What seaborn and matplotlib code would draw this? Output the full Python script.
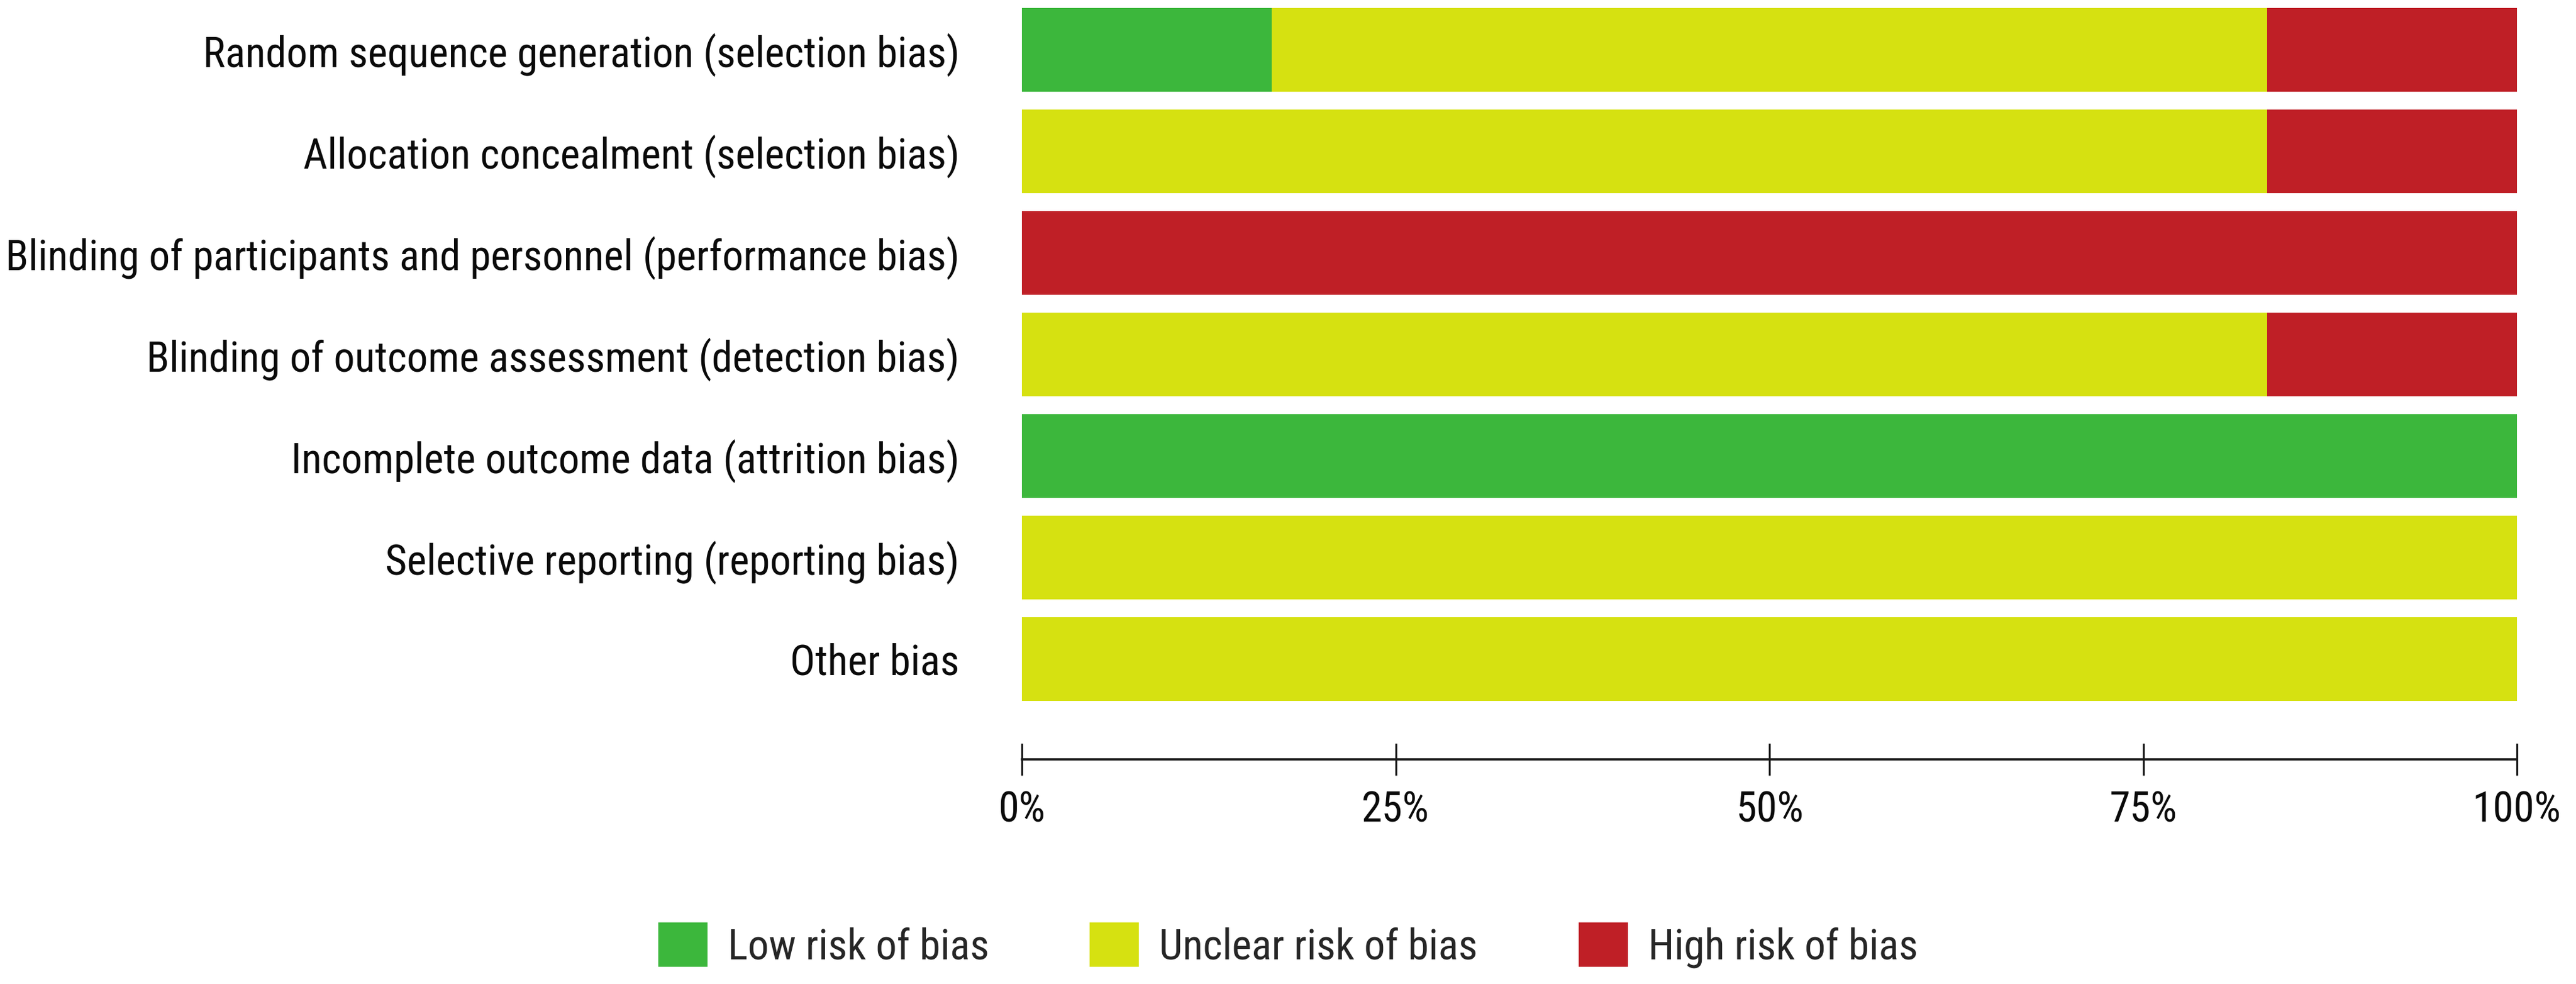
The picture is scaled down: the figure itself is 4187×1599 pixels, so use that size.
import matplotlib
matplotlib.use('Agg')
import matplotlib.pyplot as plt
import seaborn as sns
import pandas as pd
from matplotlib.patches import Patch

domains = ['Random sequence generation (selection bias)',
           'Allocation concealment (selection bias)',
           'Blinding of participants and personnel (performance bias)',
           'Blinding of outcome assessment (detection bias)',
           'Incomplete outcome data (attrition bias)',
           'Selective reporting (reporting bias)',
           'Other bias']
low = [16.7, 0, 0, 0, 100, 0, 0]
unclear = [66.6, 83.3, 0, 83.3, 0, 100, 100]
high = [16.7, 16.7, 100, 16.7, 0, 0, 0]
xticks = [0, 25, 50, 75, 100]
xtick_labels = ['0%', '25%', '50%', '75%', '100%']
legend_labels = ['Low risk of bias', 'Unclear risk of bias', 'High risk of bias']

GREEN = '#3cb73c'
YELLOW = '#d6e111'
RED = '#bf1f26'

df = pd.DataFrame({'domain': domains, 'low': low, 'unclear': unclear, 'high': high})
df['low_unclear'] = df['low'] + df['unclear']
df['total'] = df['low_unclear'] + df['high']

sns.set_theme(style='white')
plt.rcParams['font.family'] = ['Liberation Sans Narrow', 'DejaVu Sans Condensed',
                               'Roboto Condensed', 'Liberation Sans', 'DejaVu Sans']

W, H, DPI = 4187, 1599, 100
fig = plt.figure(figsize=(W / DPI, H / DPI), dpi=DPI)
fig.patch.set_facecolor('white')

# pick font size so the longest label is as wide as in the reference
renderer = fig.canvas.get_renderer()
probe = fig.text(0, 0, domains[2], fontsize=50)
fs = 50 * 1552 / probe.get_window_extent(renderer).width
probe.remove()
px = fs * DPI / 72  # font size in pixels

ax = fig.add_axes([1661 / W, 1 - 1234 / H, (4091 - 1661) / W, (1234 - 13) / H])

bar_w = 0.825
sns.barplot(data=df, y='domain', x='total', color=RED, orient='h', width=bar_w,
            saturation=1, linewidth=0, ax=ax)
sns.barplot(data=df, y='domain', x='low_unclear', color=YELLOW, orient='h', width=bar_w,
            saturation=1, linewidth=0, ax=ax)
sns.barplot(data=df, y='domain', x='low', color=GREEN, orient='h', width=bar_w,
            saturation=1, linewidth=0, ax=ax)

ax.set_xlim(0, 100)
ax.set_ylim(6.99, -bar_w / 2)
ax.set_xlabel('')
ax.set_ylabel('')
for s in ['top', 'right', 'left']:
    ax.spines[s].set_visible(False)
ax.spines['bottom'].set_linewidth(2.6)
ax.spines['bottom'].set_color('#1a1a1a')

ax.set_xticks(xticks)
ax.set_xticklabels(xtick_labels, fontsize=fs, color='#0a0a0a')
ax.tick_params(axis='x', direction='inout', length=38, width=2.3, color='#1a1a1a', pad=17,
               bottom=True)
ax.tick_params(axis='y', length=0, pad=73, labelsize=fs, labelcolor='#0a0a0a')

handles = [Patch(facecolor=c, edgecolor='none') for c in [GREEN, YELLOW, RED]]
fig.legend(handles, legend_labels, loc='center', bbox_to_anchor=(0.5, 1 - 1536 / H),
           ncol=3, frameon=False, fontsize=fs,
           handlelength=80 / px, handleheight=84 / px,
           handletextpad=33 / px, columnspacing=164 / px, borderpad=0)

fig.savefig('out.png', dpi=DPI, facecolor='white')
